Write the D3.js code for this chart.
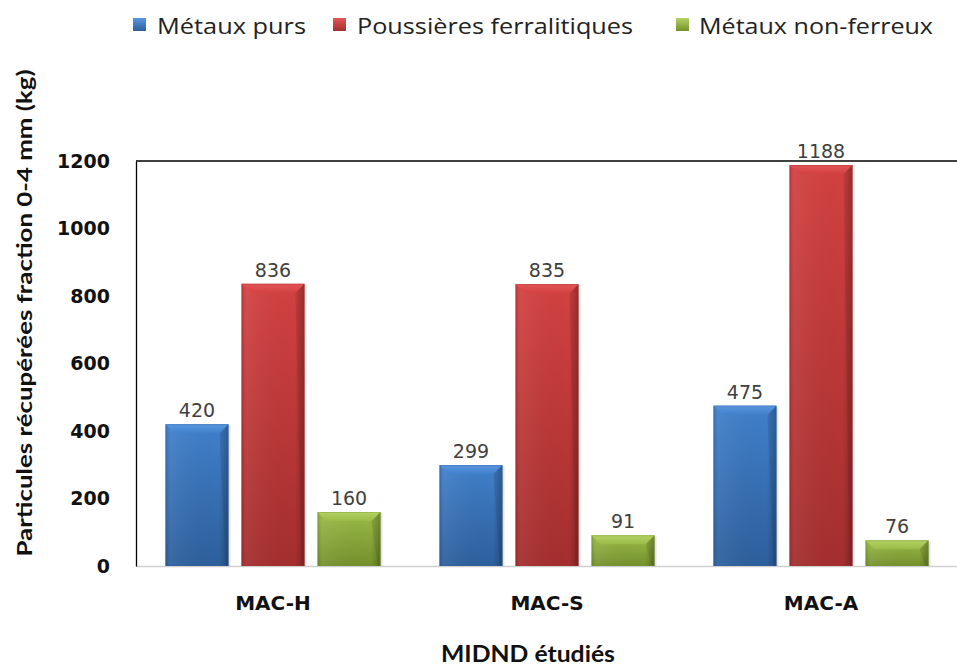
<!DOCTYPE html>
<html>
<head>
<meta charset="utf-8">
<script src="https://cdn.jsdelivr.net/npm/d3@7"></script>
<style>
  html, body { margin: 0; padding: 0; background: #fff; }
  svg { display: block; }
</style>
</head>
<body>
<svg id="chart" width="957" height="668"></svg>
<script>
// ---- data ----
const categories = ["MAC-H", "MAC-S", "MAC-A"];
const seriesNames = ["Métaux purs", "Poussières ferralitiques", "Métaux non-ferreux"];
const metauxPurs = [420, 299, 475];
const poussieresFerralitiques = [836, 835, 1188];
const metauxNonFerreux = [160, 91, 76];
const yTickValues = [0, 200, 400, 600, 800, 1000, 1200];
const yTitle = "Particules récupérées fraction 0-4 mm (kg)";
const xTitle = "MIDND étudiés";

const seriesValues = [metauxPurs, poussieresFerralitiques, metauxNonFerreux];
const palette = [
  { light: "#5a97e0", mid: "#4080cb", dark: "#2d5f9c" },
  { light: "#e35656", mid: "#d34141", dark: "#a42e2e" },
  { light: "#b3d263", mid: "#9bbb47", dark: "#74912d" }
];

const svg = d3.select("#chart");
const defs = svg.append("defs");

palette.forEach((c, i) => {
  const v = defs.append("linearGradient").attr("id", "body" + i)
    .attr("x1", 0).attr("y1", 0).attr("x2", 0).attr("y2", 1);
  v.append("stop").attr("offset", "0%").attr("stop-color", c.mid);
  v.append("stop").attr("offset", "100%").attr("stop-color", c.dark);
  const b = defs.append("linearGradient").attr("id", "bevel" + i)
    .attr("x1", 0).attr("y1", 0).attr("x2", 0).attr("y2", 1);
  b.append("stop").attr("offset", "0%").attr("stop-color", c.light);
  b.append("stop").attr("offset", "100%").attr("stop-color", c.mid);
  const lg = defs.append("linearGradient").attr("id", "leg" + i)
    .attr("x1", 0).attr("y1", 0).attr("x2", 0).attr("y2", 1);
  lg.append("stop").attr("offset", "0%").attr("stop-color", c.light);
  lg.append("stop").attr("offset", "100%").attr("stop-color", c.dark);
});
const edge = defs.append("linearGradient").attr("id", "edge")
  .attr("x1", 0).attr("y1", 0).attr("x2", 1).attr("y2", 0);
edge.append("stop").attr("offset", "0%").attr("stop-color", "#000").attr("stop-opacity", 0.12);
edge.append("stop").attr("offset", "8%").attr("stop-color", "#fff").attr("stop-opacity", 0.06);
edge.append("stop").attr("offset", "85%").attr("stop-color", "#000").attr("stop-opacity", 0);
edge.append("stop").attr("offset", "100%").attr("stop-color", "#000").attr("stop-opacity", 0.22);

// ---- scales ----
const plotLeft = 136, plotRight = 958, plotTop = 161, plotBottom = 566;
const x0 = d3.scaleBand().domain(categories).range([plotLeft, plotRight])
  .paddingInner(0.215).paddingOuter(0.1075);
const x1 = d3.scaleBand().domain(d3.range(seriesNames.length)).range([0, x0.bandwidth()])
  .paddingInner(0.171).paddingOuter(0);
const y = d3.scaleLinear().domain([0, 1200]).range([plotBottom, plotTop]);

// ---- frame lines ----
svg.append("line").attr("x1", plotLeft).attr("x2", plotRight).attr("y1", y(1200)).attr("y2", y(1200))
  .attr("stroke", "#000").attr("stroke-width", 1.3);

// x axis
const xAxis = svg.append("g").attr("transform", `translate(0,${plotBottom})`)
  .call(d3.axisBottom(x0).tickSize(0).tickPadding(0));
xAxis.select(".domain").attr("stroke", "#d0d0d0").attr("stroke-width", 1.5);
xAxis.selectAll("text")
  .attr("dy", null).attr("y", 44)
  .attr("font-family", "DejaVu Sans").attr("font-weight", "bold")
  .attr("font-size", 20).attr("fill", "#111");

// y axis
const yAxis = svg.append("g").attr("transform", `translate(${plotLeft},0)`)
  .call(d3.axisLeft(y).tickValues(yTickValues).tickFormat(d3.format("d"))
    .tickSize(0).tickSizeOuter(0).tickPadding(26));
yAxis.select(".domain").attr("stroke", "#000").attr("stroke-width", 1.3);
yAxis.selectAll("text")
  .attr("font-family", "DejaVu Sans").attr("font-weight", "bold")
  .attr("font-size", 19).attr("fill", "#111");

// ---- bars ----
const groups = svg.append("g").selectAll("g").data(categories).join("g")
  .attr("transform", d => `translate(${x0(d)},0)`);

const bevel = 9;
groups.each(function (cat, ci) {
  const g = d3.select(this);
  seriesValues.forEach((vals, si) => {
    const v = vals[ci];
    const bx = x1(si), bw = x1.bandwidth();
    const by = y(v), bh = y(0) - y(v);
    const bar = g.append("g");
    bar.append("rect").attr("x", bx + 1).attr("y", by + 1).attr("width", bw + 1).attr("height", bh - 1)
      .attr("fill", "#000").attr("opacity", 0.1);
    bar.append("rect").attr("x", bx).attr("y", by).attr("width", bw).attr("height", bh)
      .attr("fill", `url(#body${si})`);
    bar.append("rect").attr("x", bx).attr("y", by).attr("width", bw).attr("height", bh)
      .attr("fill", "url(#edge)");
    const b = Math.min(bevel, bh / 2);
    bar.append("polygon")
      .attr("points", [[bx, by], [bx + bw, by], [bx + bw - b, by + b], [bx + b, by + b]].map(p => p.join(",")).join(" "))
      .attr("fill", `url(#bevel${si})`);
    bar.append("polygon")
      .attr("points", [[bx + bw, by], [bx + bw, by + bh], [bx + bw - 3, by + bh], [bx + bw - b, by + b]].map(p => p.join(",")).join(" "))
      .attr("fill", "#000").attr("opacity", 0.08);
    bar.append("rect").attr("x", bx + 0.5).attr("y", by + 0.5).attr("width", bw - 1).attr("height", bh - 1)
      .attr("fill", "none").attr("stroke", palette[si].dark).attr("stroke-opacity", 0.35);
    g.append("text")
      .attr("x", bx + bw / 2).attr("y", by - 7)
      .attr("text-anchor", "middle")
      .attr("font-family", "DejaVu Sans").attr("font-size", 19)
      .attr("fill", "#404040")
      .text(v);
  });
});

// ---- legend ----
const legendSquareX = [133, 333, 676];
const legendTextX = [157, 357, 699];
const legendTextW = [149, 276, 234];
const legend = svg.append("g");
seriesNames.forEach((name, i) => {
  legend.append("rect").attr("x", legendSquareX[i]).attr("y", 18).attr("width", 13).attr("height", 13)
    .attr("fill", `url(#leg${i})`);
  legend.append("text").attr("x", legendTextX[i]).attr("y", 34)
    .attr("font-family", "Open Sans").attr("font-size", 22).attr("fill", "#222")
    .attr("textLength", legendTextW[i]).attr("lengthAdjust", "spacingAndGlyphs")
    .text(name);
});

// ---- axis titles ----
svg.append("text")
  .attr("transform", "translate(32,313) rotate(-90)")
  .attr("text-anchor", "middle")
  .attr("font-family", "Lato").attr("font-weight", "bold").attr("font-size", 20)
  .attr("fill", "#111")
  .attr("textLength", 487).attr("lengthAdjust", "spacingAndGlyphs")
  .text(yTitle);

svg.append("text")
  .attr("x", 528).attr("y", 662)
  .attr("text-anchor", "middle")
  .attr("font-family", "Lato").attr("font-weight", "bold").attr("font-size", 22)
  .attr("fill", "#111")
  .attr("textLength", 174).attr("lengthAdjust", "spacingAndGlyphs")
  .text(xTitle);
</script>
</body>
</html>
